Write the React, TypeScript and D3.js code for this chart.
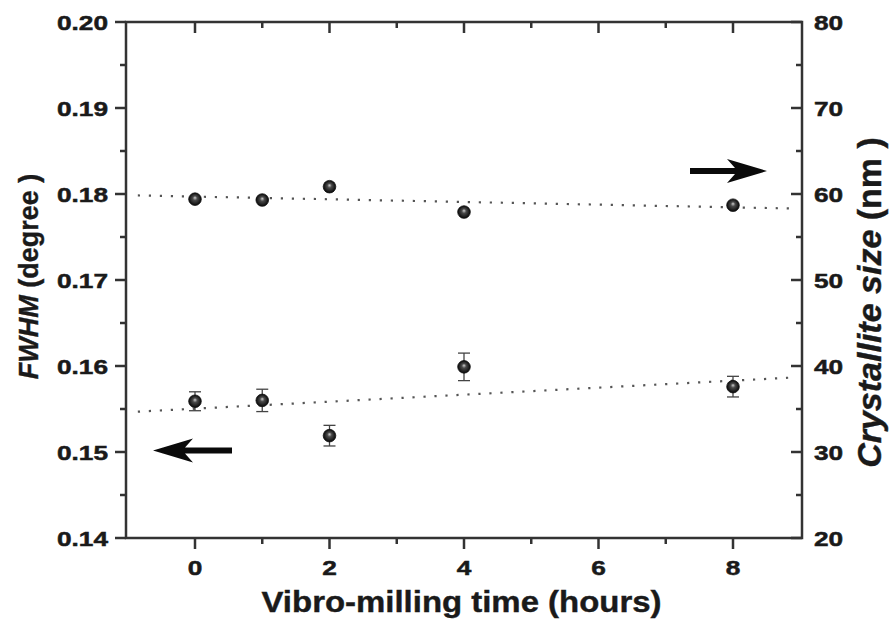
import React from 'react';
import * as d3 from 'd3';

// ---- data ----
const timeHours = [0, 1, 2, 4, 8];
const fwhmDeg = [0.1559, 0.156, 0.1519, 0.1599, 0.1576];
const fwhmErr = [0.0011, 0.0013, 0.0012, 0.0016, 0.0012];
const crystalliteNm = [59.4, 59.3, 60.85, 57.9, 58.7];

const xTicks = [0, 2, 4, 6, 8];
const xMinorTicks = [1, 3, 5, 7];
const fwhmTicks = [0.14, 0.15, 0.16, 0.17, 0.18, 0.19, 0.2];
const fwhmMinorTicks = [0.145, 0.155, 0.165, 0.175, 0.185, 0.195];
const sizeTicks = [20, 30, 40, 50, 60, 70, 80];
const sizeMinorTicks = [25, 35, 45, 55, 65, 75];
const fitRange = [-0.85, 8.85];

const W = 892;
const H = 624;
const L = 126, R = 802, T = 22, B = 538;

function linFit(xs: number[], ys: number[]) {
  const mx = d3.mean(xs) as number;
  const my = d3.mean(ys) as number;
  let sxy = 0, sxx = 0;
  xs.forEach((x, i) => { sxy += (x - mx) * (ys[i] - my); sxx += (x - mx) ** 2; });
  const b = sxy / sxx;
  return (x: number) => my + b * (x - mx);
}

const FONT = "'Liberation Sans', Arial, Helvetica, sans-serif";
const AX = '#333';
const TXT = '#1a1a1a';
const TICKSX = 1.25;

export default function App() {
  const x = d3.scaleLinear().domain([-1.026, 9.026]).range([L, R]);
  const yL = d3.scaleLinear().domain([0.14, 0.2]).range([B, T]);
  const yR = d3.scaleLinear().domain([20, 80]).range([B, T]);

  const fitF = linFit(timeHours, fwhmDeg);
  const fitS = linFit(timeHours, crystalliteNm);
  const lineL = d3.line<number>().x((d) => x(d)).y((d) => yL(fitF(d)));
  const lineR = d3.line<number>().x((d) => x(d)).y((d) => yR(fitS(d)));

  const tickLabel = (key: string, tx: number, ty: number, anchor: string, text: string) => (
    <text
      key={key}
      transform={`translate(${tx},${ty}) scale(${TICKSX},1)`}
      textAnchor={anchor}
      fontFamily={FONT}
      fontWeight="bold"
      fontSize={21}
      fill={TXT}
      stroke={TXT}
      strokeWidth={0.5}
    >
      {text}
    </text>
  );

  // arrow path: tip at (0,0) pointing left, in local coords
  const arrowPath = (len: number) =>
    `M0,0 L40,-12 L32,-3 L${len},-3 L${len},3 L32,3 L40,12 Z`;

  const marker = (cx: number, cy: number, key: string) => (
    <circle key={key} cx={cx} cy={cy} r={6.3} fill="url(#ball)" stroke="#111" strokeWidth={0.8} />
  );

  return (
    <svg
      width={W}
      height={H}
      style={{ position: 'absolute', left: 0, top: 0, background: '#fff' }}
    >
      <defs>
        <radialGradient id="ball" cx="0.5" cy="0.5" r="0.5" fx="0.5" fy="0.38">
          <stop offset="0" stopColor="#cfcfcf" />
          <stop offset="0.35" stopColor="#4a4a4a" />
          <stop offset="1" stopColor="#080808" />
        </radialGradient>
      </defs>
      <rect x={0} y={0} width={W} height={H} fill="#fff" />

      {/* fit lines */}
      <path d={lineR(fitRange) as string} fill="none" stroke="#555" strokeWidth={2.2} strokeDasharray="2.2 8.8" />
      <path d={lineL(fitRange) as string} fill="none" stroke="#555" strokeWidth={2.2} strokeDasharray="2.2 8.8" />

      {/* frame */}
      <rect x={L} y={T} width={R - L} height={B - T} fill="none" stroke={AX} strokeWidth={2.5} />

      {/* bottom axis ticks (outward) */}
      {xTicks.map((t) => (
        <line key={'xb' + t} x1={x(t)} x2={x(t)} y1={B} y2={B + 11} stroke={AX} strokeWidth={2.5} />
      ))}
      {xMinorTicks.map((t) => (
        <line key={'xbm' + t} x1={x(t)} x2={x(t)} y1={B} y2={B + 6} stroke={AX} strokeWidth={2.5} />
      ))}
      {/* top axis ticks (inward) */}
      {xTicks.map((t) => (
        <line key={'xt' + t} x1={x(t)} x2={x(t)} y1={T} y2={T + 11} stroke={AX} strokeWidth={2.5} />
      ))}
      {xMinorTicks.map((t) => (
        <line key={'xtm' + t} x1={x(t)} x2={x(t)} y1={T} y2={T + 6} stroke={AX} strokeWidth={2.5} />
      ))}
      {xTicks.map((t) => tickLabel('xl' + t, x(t), B + 37, 'middle', d3.format('d')(t)))}

      {/* left axis */}
      {fwhmTicks.map((t) => (
        <line key={'yl' + t} x1={L - 11} x2={L} y1={yL(t)} y2={yL(t)} stroke={AX} strokeWidth={2.5} />
      ))}
      {fwhmMinorTicks.map((t) => (
        <line key={'ylm' + t} x1={L - 6} x2={L} y1={yL(t)} y2={yL(t)} stroke={AX} strokeWidth={2.5} />
      ))}
      {fwhmTicks.map((t) => tickLabel('yll' + t, L - 18, yL(t) + 7.5, 'end', d3.format('.2f')(t)))}

      {/* right axis (ticks pointing inward/left) */}
      {sizeTicks.map((t) => (
        <line key={'yr' + t} x1={R - 11} x2={R} y1={yR(t)} y2={yR(t)} stroke={AX} strokeWidth={2.5} />
      ))}
      {sizeMinorTicks.map((t) => (
        <line key={'yrm' + t} x1={R - 6} x2={R} y1={yR(t)} y2={yR(t)} stroke={AX} strokeWidth={2.5} />
      ))}
      {sizeTicks.map((t) => tickLabel('yrl' + t, R + 12, yR(t) + 7.5, 'start', String(t)))}

      {/* error bars FWHM */}
      {timeHours.map((h, i) => {
        const cx = x(h);
        const y1 = yL(fwhmDeg[i] - fwhmErr[i]);
        const y2 = yL(fwhmDeg[i] + fwhmErr[i]);
        return (
          <g key={'eb' + i} stroke="#444" strokeWidth={1.3}>
            <line x1={cx} x2={cx} y1={y1} y2={y2} />
            <line x1={cx - 6} x2={cx + 6} y1={y1} y2={y1} />
            <line x1={cx - 6} x2={cx + 6} y1={y2} y2={y2} />
          </g>
        );
      })}

      {/* markers */}
      {timeHours.map((h, i) => marker(x(h), yL(fwhmDeg[i]), 'mf' + i))}
      {timeHours.map((h, i) => marker(x(h), yR(crystalliteNm[i]), 'ms' + i))}

      {/* arrows */}
      <path d={arrowPath(79)} transform={`translate(153,450.5)`} fill="#0a0a0a" />
      <path d={arrowPath(77)} transform={`translate(767,171) scale(-1,1)`} fill="#0a0a0a" />

      {/* axis titles */}
      <text
        x={461.5}
        y={612}
        textAnchor="middle"
        fontFamily={FONT}
        fontWeight="bold"
        fontSize={29}
        textLength={400}
        lengthAdjust="spacingAndGlyphs"
        fill={TXT}
        stroke={TXT}
        strokeWidth={0.4}
      >
        Vibro-milling time (hours)
      </text>
      <text
        transform="translate(38,276.5) rotate(-90)"
        textAnchor="middle"
        fontFamily={FONT}
        fontWeight="bold"
        fontSize={27}
        fill={TXT}
        stroke={TXT}
        strokeWidth={0.4}
      >
        <tspan fontStyle="italic">FWHM</tspan>
        <tspan> (degree )</tspan>
      </text>
      <text
        transform="translate(881,302.5) rotate(-90)"
        textAnchor="middle"
        fontFamily={FONT}
        fontWeight="bold"
        fontSize={34}
        fill={TXT}
        stroke={TXT}
        strokeWidth={0.4}
      >
        <tspan fontStyle="italic">Crystallite size</tspan>
        <tspan> (nm )</tspan>
      </text>
    </svg>
  );
}
